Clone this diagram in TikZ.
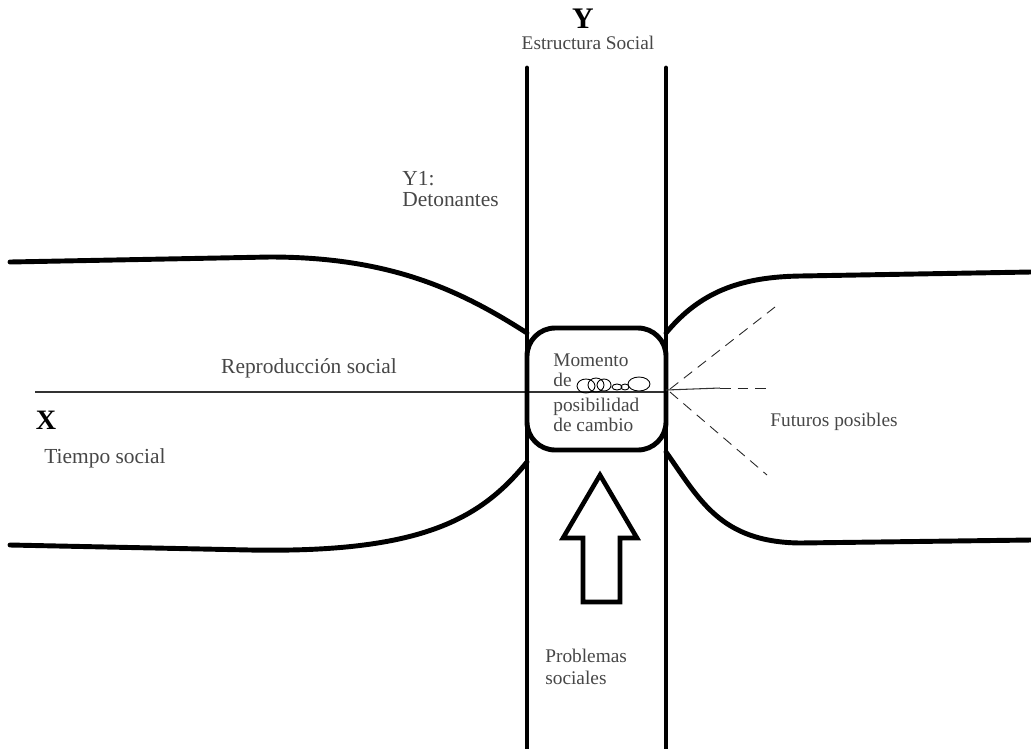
\documentclass[tikz,border=0pt]{standalone}
\usepackage{fontspec}
\setmainfont{Liberation Serif}
\usetikzlibrary{positioning}
\begin{document}
\begin{tikzpicture}[x=0.02cm,y=-0.02cm,
  axis/.style={line width=2.8pt,line cap=round,line join=round},
  guide/.style={line width=.6pt,draw=black!80},
  futuro/.style={dash pattern=on 6pt off 4pt,line width=.5pt,draw=black!85},
  scribble/.style={line width=.5pt},
  label/.style={font=\fontsize{11}{11.5}\selectfont,text=black!72,inner sep=0pt},
  big/.style={label,font=\fontsize{12.2}{12}\selectfont},
  axisname/.style={font=\fontsize{17}{18}\selectfont\bfseries,inner sep=0pt}
]
\useasboundingbox (0,0) rectangle (1031,748);

% estructura social (eje Y)
\draw[axis] (527,68) -- (527,760);
\draw[axis] (666,68) -- (666,760);
\node[axisname] (ylab) at (583,19) {Y};
\node[label] (ytxt) at (588,43) {Estructura Social};
\node[big,align=left,anchor=north west] (detona) at (402,171) {Y1:\\Detonantes};

% tiempo social (eje X)
\draw[axis] (10,262) -- (270,257) .. controls (390,257) and (460,290) .. (527,333);
\draw[axis] (10,545) -- (250,550) .. controls (420,553) and (480,520) .. (527,462);
\draw[axis] (666,333) .. controls (700,292) and (740,277) .. (800,276) -- (1031,272);
\draw[axis] (666,452) .. controls (700,500) and (720,542) .. (800,543) -- (1031,540);
\draw[guide] (35,392) -- (666,392);
\node[big] (repro) at (309,368) {Reproducción social};
\node[axisname,font=\fontsize{16}{18}\selectfont\bfseries] (xlab) at (46,420) {X};
\node[big,anchor=west] (tiempo) at (44,458) {Tiempo social};

% momento de cambio
\draw[axis,rounded corners=16] (527,328) rectangle (666,450);
\node[label,align=left,anchor=north west] (momento) at (553,353)
  {Momento\\de\\[3pt]posibilidad\\de cambio};
\foreach \cx/\cy/\rx/\ry in {586/386/9/7,596/385/8/7,604/385/7/6,617/387/5/3,625/387/4/3,639/384/11/7}
  \draw[scribble] (\cx,\cy) ellipse [x radius=\rx,y radius=\ry];

% futuros posibles
\draw[guide] (666,390) -- (720,388);
\draw[futuro] (720,388) -- (767,388);
\draw[futuro] (670,389) -- (775,307);
\draw[futuro] (670,392) -- (767,475);
\node[label,anchor=west] (futuros) at (770,422) {Futuros posibles};

% problemas sociales
\draw[line width=2.6pt,line join=miter] (600,475) -- (637,538) -- (620,538) -- (620,602)
  -- (583,602) -- (583,538) -- (563,538) -- cycle;
\node[label,align=left,anchor=north west] (problemas) at (545,649) {Problemas\\[1pt]sociales};
\end{tikzpicture}
\end{document}
